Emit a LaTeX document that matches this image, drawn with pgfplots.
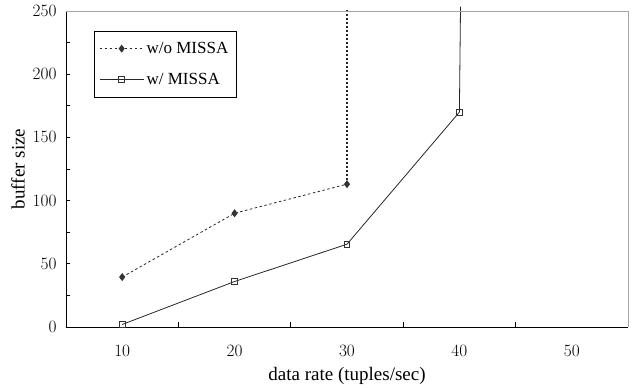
\documentclass[border=0pt]{standalone}
\usepackage{pgfplots}
\pgfplotsset{compat=1.18}
\usepackage{fontspec}
\setmainfont{Liberation Serif}
\begin{document}
\begin{tikzpicture}
\begin{axis}[
  scale only axis,
  width=562pt, height=316pt,
  xmin=5, xmax=55, ymin=0, ymax=250,
  axis x line*=bottom, axis y line*=left,
  axis line style={black, line width=0.8pt},
  clip=false,
  tick align=inside,
  major tick length=4.5pt, minor tick length=4.5pt,
  tick style={black, line width=0.7pt},
  xtick={10,20,30,40,50},
  minor x tick num=1,
  major x tick style={draw=none},
  xticklabel shift=15pt,
  ytick={0,50,...,250},
  minor y tick num=1,
  every tick label/.append style={font=\fontsize{16}{19}\selectfont},
  label style={font=\fontsize{19}{22}\selectfont},
  xlabel={data rate (tuples/sec)},
  ylabel={buffer size},
  xlabel style={at={(axis description cs:0.5,-0.155)}, anchor=center},
  ylabel style={at={(axis description cs:-0.0854,0.5)}, anchor=center},
  yticklabel style={xshift=-6pt},
  legend cell align=left,
  legend style={at={(0.0498,0.9367)}, anchor=north west, draw=black, line width=0.6pt,
    inner xsep=5pt, inner ysep=8pt, row sep=12pt,
    nodes={inner xsep=2.5pt, inner ysep=3pt},
    font=\fontsize{17}{20}\selectfont},
  legend image code/.code={\draw[mark repeat=2,mark phase=2,#1] plot coordinates {(0pt,0pt) (22pt,0pt) (44pt,0pt)};},
]
\coordinate (sw) at (rel axis cs:0,0);
\coordinate (ne) at (rel axis cs:1,1);
\addplot[color=black!85, line width=0.8pt, dash pattern=on 2.5pt off 2.5pt,
  mark=diamond*, mark size=3.4pt, mark options={solid, fill=black!80, draw=black!80}]
  coordinates {(10,39.5) (20,90) (30,113)};
\addlegendentry{w/o MISSA}
\addplot[color=black!85, line width=0.8pt,
  mark=square, mark size=2.8pt, mark options={solid, fill=white, draw=black!80, line width=0.8pt}]
  coordinates {(10,2) (20,36) (30,65.5) (40,170)};
\addlegendentry{w/ MISSA}
\addplot[forget plot, color=black!85, line width=1.2pt, dash pattern=on 2pt off 2pt]
  coordinates {(30,113) (30,251)};
\addplot[forget plot, color=black!85, line width=0.8pt]
  coordinates {(40,170) (40.1,253.5)};
\draw[black!35, line width=0.8pt] (rel axis cs:0,1) -- (rel axis cs:1,1) -- (rel axis cs:1,0);
\end{axis}
\pgfresetboundingbox
\path ([xshift=-66pt,yshift=-61pt]sw) rectangle ([xshift=4pt,yshift=11pt]ne);
\end{tikzpicture}
\end{document}
